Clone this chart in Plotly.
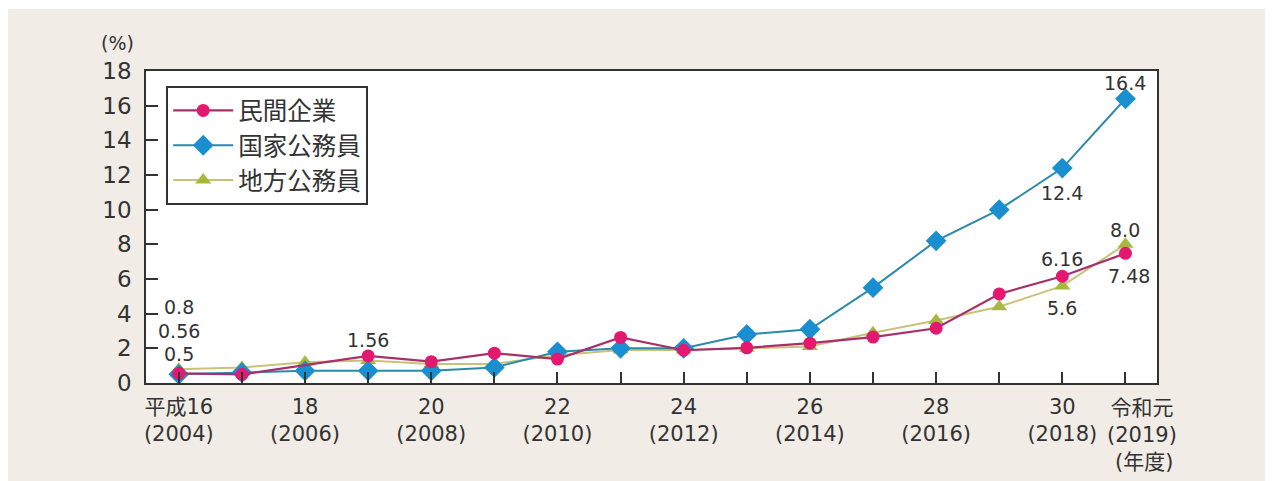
import plotly.graph_objects as go

years = list(range(2004, 2020))
# 民間企業 (2006: no data)
private = [0.56, 0.50, None, 1.56, 1.23, 1.72, 1.38, 2.63, 1.89, 2.03, 2.30, 2.65, 3.16, 5.14, 6.16, 7.48]
national = [0.5, 0.6, 0.7, 0.7, 0.7, 0.9, 1.8, 2.0, 2.0, 2.8, 3.1, 5.5, 8.2, 10.0, 12.4, 16.4]
local = [0.8, 0.9, 1.2, 1.3, 1.1, 1.1, 1.6, 1.9, 1.9, 2.0, 2.1, 2.9, 3.6, 4.4, 5.6, 8.0]

# the last label (2019) is drawn slightly right of its tick, as in the original
tick_text = ["平成16<br>(2004)", "", "18<br>(2006)", "", "20<br>(2008)", "", "22<br>(2010)", "",
             "24<br>(2012)", "", "26<br>(2014)", "", "28<br>(2016)", "", "30<br>(2018)", ""]
last_label = "令和元<br>(2019)"
unit_label = "(年度)"

labels = [  # (x, y, text)
    (2004, 4.4, "0.8"), (2004, 3.0, "0.56"), (2004, 1.65, "0.5"),
    (2007, 2.5, "1.56"), (2019, 17.3, "16.4"), (2018, 10.95, "12.4"),
    (2019, 8.85, "8.0"), (2018, 7.15, "6.16"), (2019.05, 6.15, "7.48"), (2018, 4.35, "5.6"),
]

FONT = "DejaVu Sans, Noto Sans CJK JP"
CJK = "Noto Sans CJK JP"
TXT = "#333333"
XFS = 21

fig = go.Figure()
fig.add_trace(go.Scatter(x=years, y=local, name="地方公務員", mode="lines+markers",
                         connectgaps=True, legendrank=3, legendgroup="c",
                         line=dict(color="#c9c27a", width=2),
                         marker=dict(symbol="triangle-up", size=14, color="#a6b93c")))
fig.add_trace(go.Scatter(x=years, y=national, name="国家公務員", mode="lines+markers",
                         connectgaps=True, legendrank=2, legendgroup="b",
                         line=dict(color="#2a8aa8", width=2),
                         marker=dict(symbol="diamond", size=16, color="#1a8fd0")))
fig.add_trace(go.Scatter(x=years, y=private, name="民間企業", mode="lines+markers",
                         connectgaps=True, legendrank=1, legendgroup="a",
                         line=dict(color="#a8306a", width=2.2),
                         marker=dict(symbol="circle", size=13, color="#e5186f")))

for x, y, t in labels:
    fig.add_annotation(x=x, y=y, text=t, showarrow=False, xref="x", yref="y",
                       xanchor="center", yanchor="middle",
                       font=dict(size=19, color=TXT, family=FONT))

fig.add_annotation(x=2019.27, y=-0.035, xref="x", yref="paper", text=last_label, showarrow=False,
                   xanchor="center", yanchor="top",
                   font=dict(size=XFS, color=TXT, family=FONT))
fig.add_annotation(x=2019.3, y=-0.253, xref="x", yref="paper", text=unit_label, showarrow=False,
                   xanchor="center", yanchor="middle",
                   font=dict(size=XFS, color=TXT, family=FONT))
fig.add_annotation(x=-0.028, y=1.09, xref="paper", yref="paper", text="(%)", showarrow=False,
                   xanchor="center", yanchor="middle",
                   font=dict(size=19, color=TXT, family=FONT))

# thin white outer borders around the beige panel
W, H = 1011, 312
def px_to_paper(px, py):
    return (px - 146) / W, (383 - py) / H
for (ax0, ay0, ax1, ay1) in [(0, 0, 1272, 9), (0, 0, 8, 481), (1265, 0, 1272, 481)]:
    x0, y0 = px_to_paper(ax0, ay1)
    x1, y1 = px_to_paper(ax1, ay0)
    fig.add_shape(type="rect", xref="paper", yref="paper", x0=x0, y0=y0, x1=x1, y1=y1,
                  fillcolor="white", line=dict(width=0), layer="below")

fig.update_layout(
    width=1272, height=481,
    margin=dict(l=146, r=115, t=71, b=98, autoexpand=False),
    paper_bgcolor="#f2ece6", plot_bgcolor="white",
    font=dict(family=FONT, color=TXT, size=19),
    showlegend=True,
    legend=dict(x=0.02, y=0.952, xanchor="left", yanchor="top",
                bgcolor="white", bordercolor="#333333", borderwidth=2,
                font=dict(size=24.5, color=TXT, family=CJK),
                itemwidth=60,
                traceorder="grouped", tracegroupgap=0),
    xaxis=dict(range=[2003.48, 2019.5], tickvals=years, ticktext=tick_text, tickangle=0,
               automargin=False,
               ticks="inside", ticklen=11, tickwidth=1.5, tickcolor="#333333",
               showgrid=False, zeroline=False, showline=True, linecolor="#333333",
               linewidth=1.5, mirror=True, tickfont=dict(size=XFS, color=TXT, family=FONT),
               ticklabelstandoff=4, fixedrange=True),
    yaxis=dict(range=[0, 18], dtick=2, tick0=0, automargin=False,
               ticks="inside", ticklen=12, tickwidth=1.5, tickcolor="#333333",
               showgrid=False, zeroline=False, showline=True, linecolor="#333333",
               linewidth=1.5, mirror=True, tickfont=dict(size=23, color=TXT, family=FONT),
               ticklabelstandoff=8, fixedrange=True),
)

fig.write_html("out.html")
